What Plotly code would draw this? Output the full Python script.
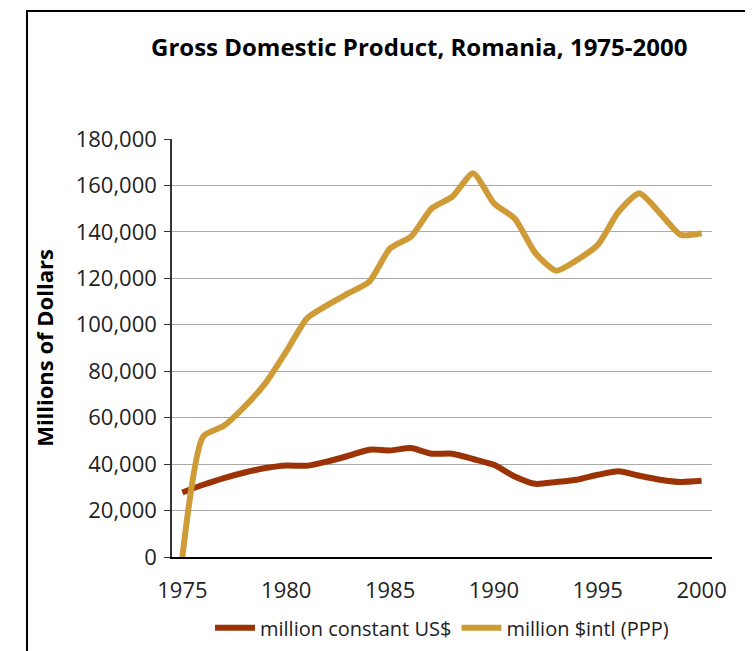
import plotly.graph_objects as go

years = list(range(1975, 2001))

gdp_constant_usd = [27800, 31100, 34000, 36400, 38300, 39400, 39300, 41200, 43600, 46200,
                    45900, 46900, 44500, 44500, 42200, 39700, 34700, 31500, 32300, 33300,
                    35400, 36900, 35000, 33300, 32300, 32800]

gdp_ppp = [0, 51900, 56500, 64800, 74900, 88500, 102800, 108600, 113600, 118600,
           132900, 137900, 150100, 155200, 165200, 152300, 145800, 130800, 123300, 127900,
           134400, 148700, 156600, 148000, 138700, 139400]

font_family = "Open Sans, sans-serif"

fig = go.Figure()

fig.add_trace(go.Scatter(
    x=years,
    y=gdp_constant_usd,
    mode='lines',
    name='million constant US$',
    line=dict(color='#9C3306', width=6, shape='spline', smoothing=0.6)
))

fig.add_trace(go.Scatter(
    x=years,
    y=gdp_ppp,
    mode='lines',
    name='million $intl (PPP)',
    line=dict(color='#CF9B37', width=6, shape='spline', smoothing=0.6)
))

# page body has an 8px margin, so the figure is sized/offset to compensate
fig.update_layout(
    width=745,
    height=643,
    margin=dict(l=164, r=41, t=131, b=94, autoexpand=False),
    paper_bgcolor='white',
    plot_bgcolor='white',
    font=dict(family=font_family, color='#222222', size=22),
    title=dict(
        text="<b>Gross Domestic Product, Romania, 1975-2000</b>",
        x=0.552, xanchor='center',
        y=0.939, yanchor='middle',
        font=dict(size=24, color='black')
    ),
    showlegend=True,
    legend=dict(
        orientation='h',
        x=0.5, xanchor='center',
        yref='container',
        y=0.036, yanchor='middle',
        font=dict(size=20),
        itemwidth=40
    ),
    xaxis=dict(
        range=[1974.5, 2000.5],
        tickvals=[1975, 1980, 1985, 1990, 1995, 2000],
        showgrid=False,
        showline=True,
        linecolor='black',
        linewidth=1.5,
        ticks='',
        ticklabelstandoff=13,
        zeroline=False
    ),
    yaxis=dict(
        range=[0, 180000],
        tickvals=list(range(0, 180001, 20000)),
        tickformat=',d',
        showgrid=True,
        gridcolor='#aaaaaa',
        gridwidth=1,
        showline=True,
        linecolor='#333333',
        linewidth=1.5,
        ticks='outside',
        ticklen=6,
        tickcolor='#333333',
        ticklabelstandoff=3,
        zeroline=False,
        title=dict(text="<b>Millions of Dollars</b>", font=dict(size=22, color='black'), standoff=16)
    ),
    shapes=[dict(
        type='rect', xref='paper', yref='paper',
        x0=-0.2685, x1=2, y0=-1, y1=1.306,
        line=dict(color='black', width=2),
        fillcolor='rgba(0,0,0,0)'
    )]
)

fig.write_html("out.html")
